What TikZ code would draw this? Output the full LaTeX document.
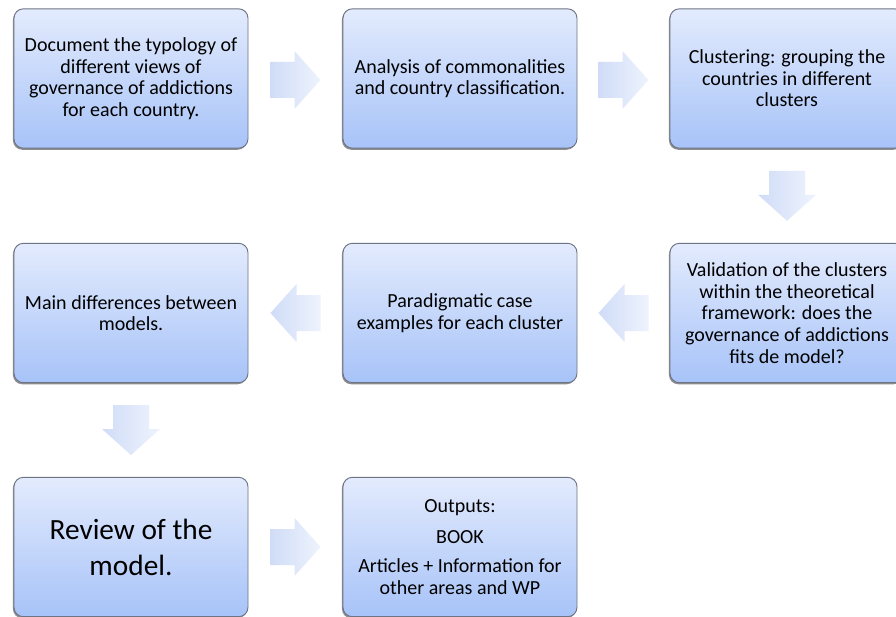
\documentclass[tikz,border=0pt]{standalone}
\usepackage{fontspec}
\setmainfont{Carlito}
\usetikzlibrary{calc,shadows}
\definecolor{boxtop}{HTML}{E3EBFD}
\definecolor{boxbot}{HTML}{A7C3F8}
\definecolor{boxline}{HTML}{6E7484}
\definecolor{arrdark}{HTML}{D0DCF7}
\definecolor{arrlight}{HTML}{EEF3FD}
\tikzset{
  stepbox/.style={rectangle, rounded corners=7pt, draw=boxline, line width=0.7pt,
    top color=boxtop, bottom color=boxbot,
    minimum width=175.5pt, minimum height=104.5pt, align=center,
    font=\fontsize{15}{16.2}\selectfont, inner sep=0pt,
    drop shadow={shadow xshift=-0.8pt, shadow yshift=-1.2pt, fill=black!55, opacity=0.8}},
  blockarrow/.pic={
    \shade[left color=arrdark, right color=arrlight]
      (-25,-18) -- (-1,-18) -- (-1,-29) -- (25,0) -- (-1,29) -- (-1,18) -- (-25,18) -- cycle;
  },
}
\begin{document}
\begin{tikzpicture}[x=0.75pt, y=-0.75pt]
\useasboundingbox (0,0) rectangle (896,617);
\fill[white] (0,0) rectangle (896,617);
% boxes
\node[stepbox] (b1) at (131,78.5) {Document the typology of\\ different views of\\ governance of addictions\\ for each country.};
\node[stepbox] (b2) at (460,78.5) {Analysis of commonalities\\ and country classification.};
\node[stepbox] (b3) at (787,78.5) {Clustering: grouping the\\ countries in different\\ clusters};
\node[stepbox] (b6) at (787,313) {Validation of the clusters\\ within the theoretical\\ framework: does the\\ governance of addictions\\ fits de model?};
\node[stepbox] (b5) at (460,313) {Paradigmatic case\\ examples for each cluster};
\node[stepbox] (b4) at (131,313) {Main differences between\\ models.};
\node[stepbox, font=\fontsize{22}{27}\selectfont] (b7) at (131,547) {Review of the\\ model.};
\node[stepbox] (b8) at (460,547) {Outputs:\\[7pt] BOOK\\[6pt] Articles + Information for\\ other areas and WP};
% arrow positions
\coordinate (a12) at ($(b1.east)!0.5!(b2.west)+(0,1.5)$);
\coordinate (a23) at ($(b2.east)!0.5!(b3.west)+(0,1.5)$);
\coordinate (a36) at ($(b3.south)!0.5!(b6.north)$);
\coordinate (a65) at ($(b6.west)!0.5!(b5.east)$);
\coordinate (a54) at ($(b5.west)!0.5!(b4.east)$);
\coordinate (a47) at ($(b4.south)!0.5!(b7.north)$);
\coordinate (a78) at ($(b7.east)!0.5!(b8.west)$);
% block arrows
\pic at (a12) {blockarrow};
\pic at (a23) {blockarrow};
\pic[rotate=-90] at (a36) {blockarrow};
\pic[rotate=180] at (a65) {blockarrow};
\pic[rotate=180] at (a54) {blockarrow};
\pic[rotate=-90] at (a47) {blockarrow};
\pic at (a78) {blockarrow};
\end{tikzpicture}
\end{document}
